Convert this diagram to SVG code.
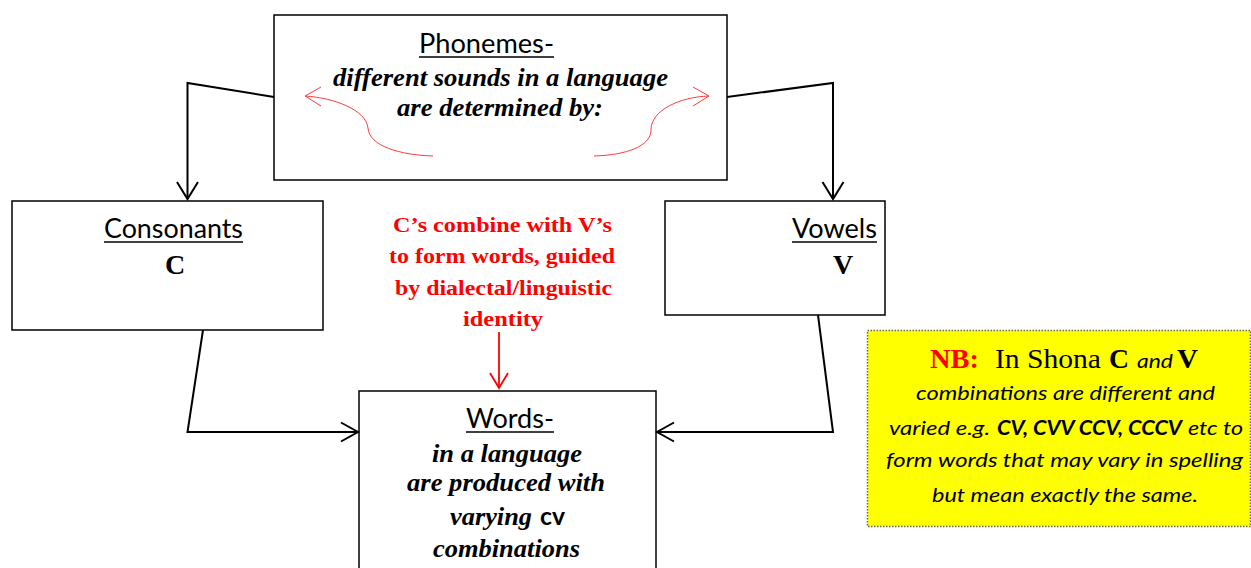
<svg xmlns="http://www.w3.org/2000/svg" width="1251" height="568" viewBox="0 0 1251 568">
  <style>
    .box { fill: #ffffff; stroke: #000000; stroke-width: 1.5; }
    .conn { fill: none; stroke: #000000; stroke-width: 2; }
    .head { fill: none; stroke: #000000; stroke-width: 2; }
    .rconn { fill: none; stroke: #ff0000; stroke-width: 1.8; }
    .curve { fill: none; stroke: #ff3b3b; stroke-width: 1; }
    .title { font-family: Lato, "Liberation Sans", sans-serif; font-size: 26px; fill: #000000; }
    .ul { stroke: #000000; stroke-width: 1.6; }
    .bi { font-family: "Liberation Serif", "Times New Roman", serif; font-weight: bold; font-style: italic; font-size: 26px; fill: #000000; }
    .big { font-family: "Liberation Serif", "Times New Roman", serif; font-weight: bold; font-size: 28px; fill: #000000; }
    .red { font-family: "Liberation Serif", "Times New Roman", serif; font-weight: bold; font-size: 22px; fill: #ff0000; }
    .note { font-family: Lato, "Liberation Sans", sans-serif; font-style: italic; font-size: 20px; fill: #000000; }
  </style>

  <!-- Top node -->
  <g id="phonemes">
    <rect class="box" x="274" y="15" width="453" height="165"/>
    <text class="title" x="419" y="53" textLength="135" lengthAdjust="spacingAndGlyphs">Phonemes-</text>
    <line class="ul" x1="419" y1="57" x2="554" y2="57"/>
    <text class="bi" x="333" y="86" textLength="335" lengthAdjust="spacingAndGlyphs">different sounds in a language</text>
    <text class="bi" x="397" y="116" textLength="206" lengthAdjust="spacingAndGlyphs">are determined by:</text>
    <!-- red curved pointers -->
    <path class="curve" d="M433,156 C400,155 369,146 368,128 C366,110 335,98 305,96"/>
    <polyline class="curve" points="321,87 305,96 321,106"/>
    <path class="curve" d="M594,156 C627,155 651,146 651,130 C651,110 680,97 709,96"/>
    <polyline class="curve" points="693,87 709,96 693,106"/>
  </g>

  <g id="consonants">
    <rect class="box" x="12" y="201" width="311" height="129"/>
    <text class="title" x="104" y="238" textLength="139" lengthAdjust="spacingAndGlyphs">Consonants</text>
    <line class="ul" x1="104" y1="242" x2="243" y2="242"/>
    <text class="big" x="175" y="274" text-anchor="middle">C</text>
  </g>

  <g id="vowels">
    <rect class="box" x="665" y="201" width="220" height="114"/>
    <text class="title" x="792" y="238" textLength="85" lengthAdjust="spacingAndGlyphs">Vowels</text>
    <line class="ul" x1="792" y1="242" x2="877" y2="242"/>
    <text class="big" x="843" y="274" text-anchor="middle">V</text>
  </g>

  <g id="rule">
    <text class="red" x="393" y="232" textLength="219" lengthAdjust="spacingAndGlyphs">C’s combine with V’s</text>
    <text class="red" x="389" y="263" textLength="226" lengthAdjust="spacingAndGlyphs">to form words, guided</text>
    <text class="red" x="395" y="295" textLength="217" lengthAdjust="spacingAndGlyphs">by dialectal/linguistic</text>
    <text class="red" x="463" y="326" textLength="80" lengthAdjust="spacingAndGlyphs">identity</text>
  </g>

  <g id="words">
    <rect class="box" x="359" y="391" width="297" height="200"/>
    <text class="title" x="466" y="428" textLength="88" lengthAdjust="spacingAndGlyphs">Words-</text>
    <line class="ul" x1="466" y1="432" x2="554" y2="432"/>
    <text class="bi" x="432" y="462" textLength="150" lengthAdjust="spacingAndGlyphs">in a language</text>
    <text class="bi" x="407" y="491" textLength="198" lengthAdjust="spacingAndGlyphs">are produced with</text>
    <text class="bi" x="450" y="525" textLength="82" lengthAdjust="spacingAndGlyphs">varying</text>
    <text x="540" y="525" font-family="Lato, 'Liberation Sans', sans-serif" font-weight="bold" font-size="24" textLength="25" lengthAdjust="spacingAndGlyphs">cv</text>
    <text class="bi" x="433" y="557" textLength="147" lengthAdjust="spacingAndGlyphs">combinations</text>
  </g>

  <g id="note">
    <rect x="867.5" y="330.5" width="383" height="196" fill="#ffff00" stroke="#666666" stroke-width="1.5" stroke-dasharray="1.5 1.5"/>
    <text x="930" y="368" font-family="'Liberation Serif', serif" font-weight="bold" font-size="27" fill="#ff0000" textLength="49" lengthAdjust="spacingAndGlyphs">NB:</text>
    <text x="995" y="368" font-family="'Liberation Serif', serif" font-size="27" textLength="106" lengthAdjust="spacingAndGlyphs">In Shona</text>
    <text x="1109" y="368" font-family="'Liberation Serif', serif" font-weight="bold" font-size="27" textLength="20" lengthAdjust="spacingAndGlyphs">C</text>
    <text class="note" x="1137" y="368" textLength="36" lengthAdjust="spacingAndGlyphs">and</text>
    <text x="1177" y="368" font-family="'Liberation Serif', serif" font-weight="bold" font-size="27" textLength="21" lengthAdjust="spacingAndGlyphs">V</text>
    <text class="note" x="916" y="400" textLength="299" lengthAdjust="spacingAndGlyphs">combinations are different and</text>
    <text class="note" x="889" y="435" textLength="101" lengthAdjust="spacingAndGlyphs">varied e.g.</text>
    <text class="note" x="997" y="435" font-weight="bold" textLength="185" lengthAdjust="spacingAndGlyphs">CV, CVV CCV, CCCV</text>
    <text class="note" x="1188" y="435" textLength="55" lengthAdjust="spacingAndGlyphs">etc to</text>
    <text class="note" x="886" y="467" textLength="357" lengthAdjust="spacingAndGlyphs">form words that may vary in spelling</text>
    <text class="note" x="932" y="502" textLength="266" lengthAdjust="spacingAndGlyphs">but mean exactly the same.</text>
  </g>

  <g id="connectors">
    <!-- phonemes to consonants -->
    <polyline class="conn" points="274,97 187.5,83 187.5,199"/>
    <polyline class="head" points="177,182 187.5,199 198,182"/>
    <!-- phonemes to vowels -->
    <polyline class="conn" points="727,97 833,83 833,199"/>
    <polyline class="head" points="822.5,182 833,199 843.5,182"/>
    <!-- consonants to words -->
    <polyline class="conn" points="203,330 187.5,432 358,432"/>
    <polyline class="head" points="341,422.5 358,432 341,441.5"/>
    <!-- vowels to words -->
    <polyline class="conn" points="818,315 833,432 657,432"/>
    <polyline class="head" points="674,422.5 657,432 674,441.5"/>
    <!-- rule to words -->
    <line class="rconn" x1="499" y1="332" x2="499" y2="388"/>
    <polyline class="rconn" points="490,373 499,388 508,373"/>
  </g>
</svg>
